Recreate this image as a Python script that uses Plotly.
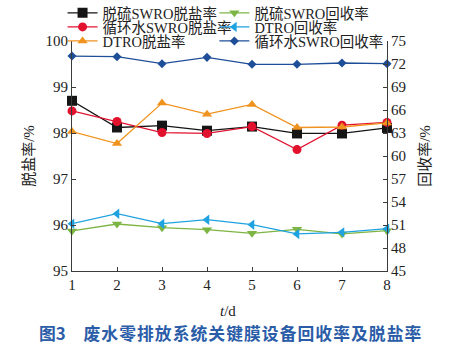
import plotly.graph_objects as go

days = [1, 2, 3, 4, 5, 6, 7, 8]
desulf_swro_salt = [98.70, 98.12, 98.16, 98.05, 98.14, 97.99, 97.99, 98.11]
circ_swro_salt = [98.48, 98.25, 98.01, 97.99, 98.14, 97.64, 98.17, 98.23]
dtro_salt = [98.03, 97.77, 98.65, 98.41, 98.62, 98.12, 98.13, 98.22]
desulf_swro_rec = [50.22, 51.13, 50.65, 50.39, 49.91, 50.43, 49.83, 50.26]
dtro_rec = [51.17, 52.47, 51.17, 51.69, 51.04, 49.83, 50.04, 50.52]
circ_swro_rec = [73.04, 72.95, 72.04, 72.87, 71.96, 71.96, 72.13, 72.04]

left_ticks = [95, 96, 97, 98, 99, 100]
right_ticks = [45, 48, 51, 54, 57, 60, 63, 66, 69, 72, 75]
x_ticks = [1, 2, 3, 4, 5, 6, 7, 8]

SERIF = "Liberation Serif, Times New Roman, Noto Sans CJK SC"
AX = "#3a3a3a"

C1, C2 = -0.03, 0.452
R1, R2, R3 = 1.122, 1.061, 1.0
# name, values, axis, colour, symbol, size, legend id, legend (x, y) in paper
series = [
    ("脱硫SWRO脱盐率", desulf_swro_salt, "y", "#151515", "square", 10, "legend", C1, R1),
    ("脱硫SWRO回收率", desulf_swro_rec, "y2", "#7db544", "triangle-down", 9, "legend2", C2, R1),
    ("循环水SWRO脱盐率", circ_swro_salt, "y", "#e2122f", "circle", 9, "legend3", C1, R2),
    ("DTRO回收率", dtro_rec, "y2", "#1fa2e0", "triangle-left", 9, "legend4", C2, R2),
    ("DTRO脱盐率", dtro_salt, "y", "#f0921e", "triangle-up", 9, "legend5", C1, R3),
    ("循环水SWRO回收率", circ_swro_rec, "y2", "#1f4e98", "diamond", 7, "legend6", C2, R3),
]

fig = go.Figure()
legends = {}
for name, vals, ax, col, sym, sz, lg, lx, ly in series:
    fig.add_trace(go.Scatter(
        x=days, y=vals, name=name, yaxis=ax, mode="lines+markers",
        line=dict(color=col, width=1.3),
        marker=dict(symbol=sym, size=sz, color=col),
        cliponaxis=False, legend=lg,
    ))
    legends[lg] = dict(
        x=lx, y=ly, xanchor="left", yanchor="middle",
        itemwidth=30, bgcolor="rgba(0,0,0,0)", borderwidth=0,
        font=dict(family=SERIF, size=14.5, color="#222"),
    )

fig.update_layout(
    width=455, height=354,
    margin=dict(l=72, r=68, t=41, b=83, autoexpand=False),
    paper_bgcolor="white", plot_bgcolor="white",
    font=dict(family=SERIF, size=15, color="#222"),
    showlegend=True,
    **legends,
    xaxis=dict(
        range=[1, 8], tickvals=x_ticks, ticks="inside", ticklen=4,
        tickcolor=AX, showline=True, linecolor=AX, linewidth=1.2,
        showgrid=False, zeroline=False,
        tickfont=dict(family=SERIF, size=15),
    ),
    yaxis=dict(
        range=[95, 100], tickvals=left_ticks, ticks="inside", ticklen=4,
        tickcolor=AX, showline=True, linecolor=AX, linewidth=1.2,
        showgrid=False, zeroline=False,
        tickfont=dict(family=SERIF, size=15),
        title=dict(text="脱盐率/%", font=dict(family=SERIF, size=15), standoff=7),
    ),
    yaxis2=dict(
        range=[45, 75], tickvals=right_ticks, ticks="inside", ticklen=4,
        tickcolor=AX, showline=True, linecolor=AX, linewidth=1.2,
        showgrid=False, zeroline=False, overlaying="y", side="right",
        tickfont=dict(family=SERIF, size=15),
        title=dict(text="回收率/%", font=dict(family=SERIF, size=15), standoff=13),
    ),
)

fig.add_annotation(
    text="<i>t</i>/d", xref="paper", yref="paper", x=0.495, y=-0.174,
    xanchor="center", yanchor="middle", showarrow=False,
    font=dict(family=SERIF, size=15, color="#222"),
)

fig.add_annotation(
    text="图3\u3000\u200a废\u200a水\u200a零\u200a排\u200a放\u200a系\u200a统\u200a关\u200a键\u200a膜\u200a设\u200a备\u200a回\u200a收\u200a率\u200a及\u200a脱\u200a盐\u200a率",
    xref="paper", yref="paper", x=0.5, y=-0.27, xanchor="center", yanchor="middle",
    showarrow=False,
    font=dict(family="Noto Sans CJK SC", size=16.8, color="#2a5ca8", weight="bold"),
)

fig.write_html("out.html")
